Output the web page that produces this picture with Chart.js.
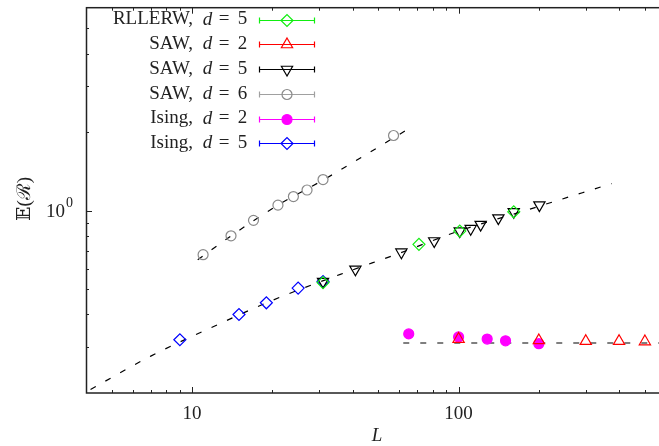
<!DOCTYPE html>
<html>
<head>
<meta charset="utf-8">
<script src="https://cdn.jsdelivr.net/npm/chart.js@4"></script>
<style>
  html, body { margin: 0; padding: 0; background: #fff; overflow: hidden; }
</style>
</head>
<body>
<canvas id="myChart" width="680" height="446"></canvas>
<script>
// values (L, E(R))
const rllerwL = [31, 71, 101, 161];
const rllerwV = [0.53, 0.743, 0.835, 0.99];
const saw2L = [100, 200, 300, 400, 500];
const saw2V = [0.322, 0.318, 0.316, 0.316, 0.315];
const saw5L = [31, 41, 61, 81, 101, 111, 121, 141, 161, 201];
const saw5V = [0.535, 0.596, 0.693, 0.765, 0.835, 0.853, 0.884, 0.936, 0.99, 1.05];
const saw6L = [11, 14, 17, 21, 24, 27, 31, 57];
const saw6V = [0.678, 0.801, 0.918, 1.05, 1.133, 1.2, 1.316, 1.942];
const ising2L = [65, 100, 128, 150, 200];
const ising2V = [0.337, 0.328, 0.322, 0.317, 0.309];
const ising5L = [9, 15, 19, 25, 31];
const ising5V = [0.32, 0.4, 0.4435, 0.505, 0.535];

// dashed fit curves
const fit5L = [4.16, 7, 12, 20, 36, 60, 100, 180, 375];
const fit5V = [0.2064, 0.277, 0.359, 0.453, 0.57, 0.687, 0.835, 1.005, 1.27];
const fit6L = [10.5, 14, 21, 31, 67];
const fit6V = [0.649, 0.8, 1.05, 1.31, 2.1];
const fit2L = [62, 700];
const fit2V = [0.311, 0.311];

// axis ticks
const xMajorTicks = [10, 100];
const xMinorTicks = [5, 6, 7, 8, 9, 20, 30, 40, 50, 60, 70, 80, 90, 200, 300, 400, 500];
const yMajorTicks = [1];
const yMinorTicks = [0.3, 0.4, 0.5, 0.6, 0.7, 0.8, 0.9, 2, 3, 4, 5];

const serif = '"Liberation Serif", "DejaVu Serif", serif';

const series = [
  { name: "RLLERW", d: "5", L: rllerwL, V: rllerwV, color: "#11ee11", style: "rectRot", rot: 0, r: 6, filled: false },
  { name: "SAW", d: "2", L: saw2L, V: saw2V, color: "#ff0000", style: "triangle", rot: 0, r: 6.5, filled: false },
  { name: "SAW", d: "5", L: saw5L, V: saw5V, color: "#000000", style: "triangle", rot: 180, r: 6.5, filled: false },
  { name: "SAW", d: "6", L: saw6L, V: saw6V, color: "#8a8a8a", style: "circle", rot: 0, r: 5, filled: false },
  { name: "Ising", d: "2", L: ising2L, V: ising2V, color: "#ff00ff", style: "circle", rot: 0, r: 5, filled: true },
  { name: "Ising", d: "5", L: ising5L, V: ising5V, color: "#0000ff", style: "rectRot", rot: 0, r: 6, filled: false },
];

const toPoints = (xs, ys) => xs.map((x, i) => ({ x: x, y: ys[i] }));

const datasets = series.map((s) => ({
  label: s.name + ", d = " + s.d,
  data: toPoints(s.L, s.V),
  showLine: false,
  pointStyle: s.style,
  rotation: s.rot,
  pointRadius: s.r,
  borderWidth: 1.2,
  borderColor: s.color,
  backgroundColor: s.filled ? s.color : "rgba(0,0,0,0)",
  order: 0,
}));

[[fit5L, fit5V], [fit6L, fit6V], [fit2L, fit2V]].forEach((f) => {
  datasets.push({
    data: toPoints(f[0], f[1]),
    showLine: true,
    pointRadius: 0,
    borderColor: "#000",
    borderWidth: 1.2,
    borderDash: [6, 11],
    cubicInterpolationMode: "monotone",
    order: 1,
  });
});

const decor = {
  id: "decor",
  afterDraw(chart) {
    const ctx = chart.ctx;
    const a = chart.chartArea;
    const xs = chart.scales.x;
    const ys = chart.scales.y;
    ctx.save();

    // frame
    ctx.strokeStyle = "#222";
    ctx.lineWidth = 1.5;
    ctx.strokeRect(a.left + 0.5, a.top, a.right - a.left, a.bottom - a.top);

    // inward ticks, mirrored
    ctx.lineWidth = 1;
    const tick = (x1, y1, x2, y2) => {
      ctx.beginPath();
      ctx.moveTo(x1, y1);
      ctx.lineTo(x2, y2);
      ctx.stroke();
    };
    xMajorTicks.concat(xMinorTicks).forEach((v) => {
      const len = xMajorTicks.includes(v) ? 6 : 3;
      const px = Math.round(xs.getPixelForValue(v)) + 0.5;
      tick(px, a.bottom, px, a.bottom - len);
      tick(px, a.top, px, a.top + len);
    });
    yMajorTicks.concat(yMinorTicks).forEach((v) => {
      const len = yMajorTicks.includes(v) ? 6 : 3;
      const py = Math.round(ys.getPixelForValue(v)) + 0.5;
      tick(a.left, py, a.left + len, py);
      tick(a.right, py, a.right - len, py);
    });

    // tick labels
    ctx.fillStyle = "#222";
    ctx.font = "19px " + serif;
    ctx.textAlign = "center";
    ctx.textBaseline = "middle";
    xMajorTicks.forEach((v) => {
      ctx.fillText(String(v), xs.getPixelForValue(v), 414);
    });
    const y1 = ys.getPixelForValue(1);
    ctx.textAlign = "right";
    ctx.fillText("10", 65, y1 + 1);
    ctx.font = "14px " + serif;
    ctx.textAlign = "left";
    ctx.fillText("0", 66, y1 - 7);

    // axis titles
    ctx.font = "italic 19px " + serif;
    ctx.textAlign = "center";
    ctx.fillText("L", 377, 436);
    ctx.save();
    ctx.translate(25, 199);
    ctx.rotate(-Math.PI / 2);
    ctx.font = "19px " + serif;
    ctx.fillText("\u{1D53C}(\u211B)", 0, 0);
    ctx.restore();

    // legend
    const rows = [19.5, 44, 69, 94, 118.5, 143];
    series.forEach((s, i) => {
      const y = rows[i];
      ctx.fillStyle = "#222";
      ctx.textBaseline = "middle";
      ctx.font = "19px " + serif;
      ctx.textAlign = "right";
      ctx.fillText(s.name + ",", 193, y);
      ctx.textAlign = "center";
      ctx.font = "italic 19px " + serif;
      ctx.fillText("d", 207.5, y);
      ctx.font = "19px " + serif;
      ctx.fillText("=", 224.2, y);
      ctx.fillText(s.d, 242.5, y);

      ctx.strokeStyle = s.color === "#8a8a8a" ? "#a0a0a0" : s.color;
      ctx.lineWidth = 1.2;
      const yy = Math.round(y) + 0.5;
      tick(259, yy, 315, yy);
      tick(259.5, yy - 3, 259.5, yy + 3);
      tick(314.5, yy - 3, 314.5, yy + 3);
      ctx.strokeStyle = s.color;
      ctx.fillStyle = s.filled ? s.color : "rgba(0,0,0,0)";
      Chart.helpers.drawPoint(ctx, { pointStyle: s.style, rotation: s.rot, radius: s.r, borderWidth: 1.2 }, 287, yy);
    });
    ctx.restore();
  },
};

const ctx = document.getElementById("myChart");
new Chart(ctx, {
  type: "scatter",
  data: { datasets: datasets },
  options: {
    responsive: false,
    animation: false,
    layout: { padding: { top: 2, right: 14, left: 0, bottom: 0 } },
    plugins: {
      legend: { display: false },
      tooltip: { enabled: false },
    },
    scales: {
      x: {
        type: "logarithmic",
        min: 4,
        max: 600,
        grid: { display: false },
        border: { display: false },
        ticks: { display: false },
        afterFit: (s) => { s.height = 53; },
      },
      y: {
        type: "logarithmic",
        min: 0.2,
        max: 6,
        grid: { display: false },
        border: { display: false },
        ticks: { display: false },
        afterFit: (s) => { s.width = 86; },
      },
    },
  },
  plugins: [decor],
});
</script>
</body>
</html>
